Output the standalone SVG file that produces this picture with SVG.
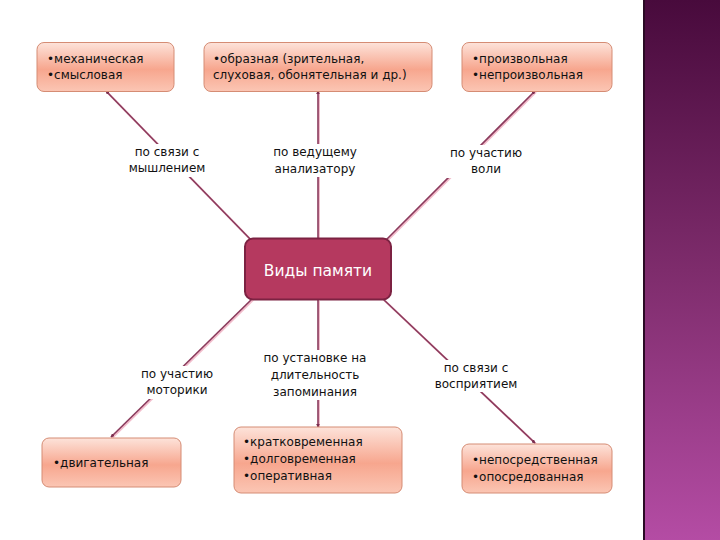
<svg xmlns="http://www.w3.org/2000/svg" width="720" height="540" viewBox="0 0 720 540">
<defs>
<linearGradient id="peach" x1="0" y1="0" x2="0" y2="1">
<stop offset="0" stop-color="#fde3da"/>
<stop offset="0.55" stop-color="#f7a68e"/>
<stop offset="1" stop-color="#fbc6b4"/>
</linearGradient>
<linearGradient id="band" x1="0" y1="0" x2="0" y2="1">
<stop offset="0" stop-color="#480a3c"/>
<stop offset="0.5" stop-color="#7e2c6c"/>
<stop offset="1" stop-color="#b44ca4"/>
</linearGradient>
<marker id="ah" viewBox="0 0 6 6" refX="5" refY="3" markerWidth="4" markerHeight="4" orient="auto" markerUnits="userSpaceOnUse">
<path d="M0,0 L6,3 L0,6 z" fill="#7a2e4e"/>
</marker>
<style>
.box{fill:url(#peach);stroke:#d58c74;stroke-width:1}
.t{font-family:"DejaVu Sans",sans-serif;font-size:12px;fill:#111}
.lb{font-family:"DejaVu Sans",sans-serif;font-size:12px;fill:#111;text-anchor:middle}
.sh{stroke:#f2bccb;stroke-width:2;fill:none}
.ln{stroke:#8a3a5c;stroke-width:1.6;fill:none}
.bg{fill:#fff}
</style>
</defs>
<rect width="720" height="540" fill="#fff"/>
<rect x="643" y="0" width="77" height="540" fill="url(#band)"/>
<rect x="643" y="0" width="2" height="540" fill="#2a0a24"/>

<g id="connectors">
<g transform="translate(1,1)">
<line class="sh" x1="252" y1="241" x2="106" y2="91"/>
<line class="sh" x1="318" y1="239" x2="318" y2="91"/>
<line class="sh" x1="385" y1="241" x2="535" y2="91"/>
<line class="sh" x1="252" y1="299" x2="111" y2="437"/>
<line class="sh" x1="318" y1="300" x2="318" y2="427"/>
<line class="sh" x1="383" y1="299" x2="535" y2="443"/>
</g>
<line class="ln" x1="252" y1="241" x2="106" y2="91" marker-end="url(#ah)"/>
<line class="ln" x1="318" y1="239" x2="318" y2="91" marker-end="url(#ah)"/>
<line class="ln" x1="385" y1="241" x2="535" y2="91" marker-end="url(#ah)"/>
<line class="ln" x1="252" y1="299" x2="111" y2="437" marker-end="url(#ah)"/>
<line class="ln" x1="318" y1="300" x2="318" y2="427" marker-end="url(#ah)"/>
<line class="ln" x1="383" y1="299" x2="535" y2="443" marker-end="url(#ah)"/>
</g>

<g id="lbl-myshl">
<rect class="bg" x="128" y="144" width="80" height="33"/>
<text class="lb" x="167" y="156">по связи с</text>
<text class="lb" x="167" y="172">мышлением</text>
</g>
<g id="lbl-analiz">
<rect class="bg" x="270" y="144" width="90" height="33"/>
<text class="lb" x="315" y="156">по ведущему</text>
<text class="lb" x="315" y="173">анализатору</text>
</g>
<g id="lbl-voli">
<rect class="bg" x="446" y="145" width="80" height="33"/>
<text class="lb" x="486" y="157">по участию</text>
<text class="lb" x="486" y="173">воли</text>
</g>
<g id="lbl-motor">
<rect class="bg" x="138" y="366" width="80" height="33"/>
<text class="lb" x="177" y="378">по участию</text>
<text class="lb" x="177" y="394">моторики</text>
</g>
<g id="lbl-dlit">
<rect class="bg" x="258" y="350" width="114" height="50"/>
<text class="lb" x="315" y="362">по установке на</text>
<text class="lb" x="315" y="379">длительность</text>
<text class="lb" x="315" y="396">запоминания</text>
</g>
<g id="lbl-vospr">
<rect class="bg" x="432" y="360" width="90" height="32"/>
<text class="lb" x="476" y="372">по связи с</text>
<text class="lb" x="476" y="388">восприятием</text>
</g>

<g id="box-mekh">
<rect class="box" x="37" y="42.5" width="137" height="49" rx="7"/>
<text class="t" x="47" y="63">•механическая</text>
<text class="t" x="47" y="79">•смысловая</text>
</g>
<g id="box-obraz">
<rect class="box" x="204" y="42.5" width="228" height="49" rx="7"/>
<text class="t" x="213" y="63">•образная (зрительная,</text>
<text class="t" x="213" y="79">слуховая, обонятельная и др.)</text>
</g>
<g id="box-proizv">
<rect class="box" x="462" y="42.5" width="150" height="49" rx="7"/>
<text class="t" x="472" y="63">•произвольная</text>
<text class="t" x="472" y="79">•непроизвольная</text>
</g>
<g id="center">
<rect x="245" y="238.5" width="146" height="61" rx="8" fill="#b5395f" stroke="#7c2242" stroke-width="2"/>
<text x="318" y="276" text-anchor="middle" font-family="DejaVu Sans, sans-serif" font-size="15.5" fill="#fff">Виды памяти</text>
</g>
<g id="box-dvig">
<rect class="box" x="42" y="438" width="139" height="49" rx="7"/>
<text class="t" x="53" y="467">•двигательная</text>
</g>
<g id="box-dlit">
<rect class="box" x="234" y="427" width="168" height="66" rx="7"/>
<text class="t" x="243" y="446">•кратковременная</text>
<text class="t" x="243" y="463">•долговременная</text>
<text class="t" x="243" y="480">•оперативная</text>
</g>
<g id="box-vospr">
<rect class="box" x="462" y="444" width="150" height="49" rx="7"/>
<text class="t" x="472" y="464">•непосредственная</text>
<text class="t" x="472" y="481">•опосредованная</text>
</g>
</svg>
